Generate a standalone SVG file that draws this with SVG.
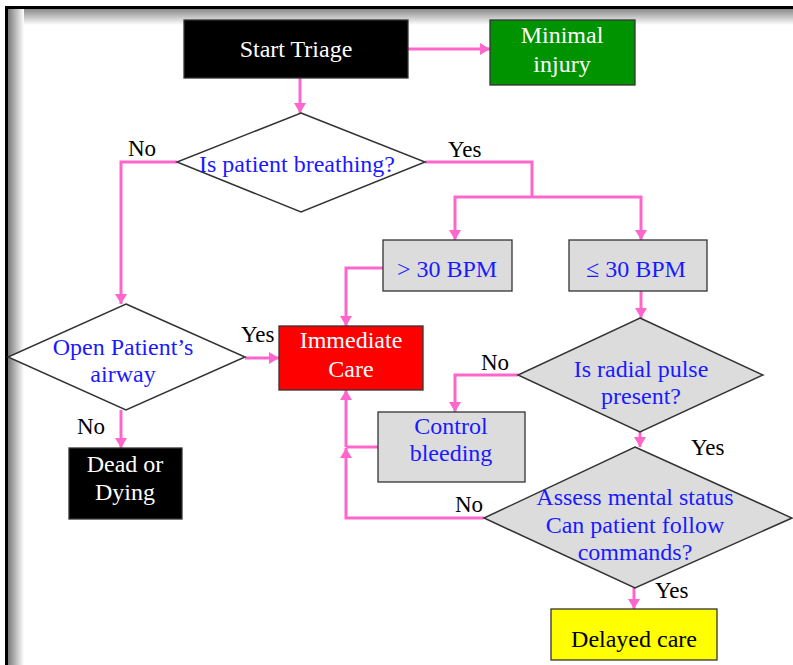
<svg xmlns="http://www.w3.org/2000/svg" width="793" height="665" viewBox="0 0 793 665" font-family="'Liberation Serif', 'Times New Roman', 'DejaVu Serif', serif">
  <defs>
    <marker id="arrow" markerUnits="userSpaceOnUse" markerWidth="11" markerHeight="12" refX="10" refY="6" orient="auto">
      <path d="M0,0 L10,6 L0,12 z" fill="#ff66cc"/>
    </marker>
    <linearGradient id="shadeTop" x1="0" y1="0" x2="0" y2="1">
      <stop offset="0" stop-color="#8a8a8a"/>
      <stop offset="1" stop-color="#ffffff"/>
    </linearGradient>
    <linearGradient id="shadeLeft" x1="0" y1="0" x2="1" y2="0">
      <stop offset="0" stop-color="#7a7a7a"/>
      <stop offset="1" stop-color="#ffffff"/>
    </linearGradient>
    <style>
      text { font-family: 'Liberation Serif', 'Times New Roman', 'DejaVu Serif', serif; font-size: 24px; text-anchor: middle; }
      .lbl { font-size: 23px; fill: #000; text-anchor: start; }
      .white { fill: #ffffff; }
      .blue { fill: #1a1aff; }
      .black { fill: #000000; }
      .box { stroke: #333; stroke-width: 1.3; }
      .dia { stroke: #333; stroke-width: 1.5; }
      .wire { fill: none; stroke: #ff66cc; stroke-width: 3; }
      .arr { marker-end: url(#arrow); }
    </style>
  </defs>

  <rect width="793" height="665" fill="#ffffff"/>

  <!-- page frame with soft inner shadow -->
  <rect x="8" y="9" width="785" height="16" fill="url(#shadeTop)"/>
  <rect x="8" y="9" width="16" height="656" fill="url(#shadeLeft)"/>
  <rect x="5" y="6" width="788" height="3" fill="#000"/>
  <rect x="5" y="6" width="3" height="659" fill="#000"/>

  <!-- connectors -->
  <g id="connectors">
    <path class="wire arr" d="M408,49 H490"/>
    <path class="wire arr" d="M300,78 V113"/>
    <path class="wire arr" d="M177,162 H121 V304"/>
    <path class="wire" d="M425,162 H532 V197"/>
    <path class="wire arr" d="M532,197 H455 V240"/>
    <path class="wire arr" d="M532,197 H641 V240"/>
    <path class="wire arr" d="M383,268 H346 V326"/>
    <path class="wire arr" d="M641,291 V318"/>
    <path class="wire arr" d="M518,375 H455 V412"/>
    <path class="wire arr" d="M245,358 H279"/>
    <path class="wire arr" d="M121,410 V448"/>
    <path class="wire arr" d="M640,432 V447"/>
    <path class="wire arr" d="M484,518 H346 V448"/>
    <path class="wire" d="M378,447 H346"/>
    <path class="wire arr" d="M346,447 V390"/>
    <path class="wire arr" d="M634,588 V609"/>
  </g>

  <!-- branch labels -->
  <g id="labels">
    <text class="lbl" x="128" y="156">No</text>
    <text class="lbl" x="448" y="157">Yes</text>
    <text class="lbl" x="241" y="342">Yes</text>
    <text class="lbl" x="77" y="434">No</text>
    <text class="lbl" x="481" y="370">No</text>
    <text class="lbl" x="691" y="455">Yes</text>
    <text class="lbl" x="455" y="512">No</text>
    <text class="lbl" x="655" y="598">Yes</text>
  </g>

  <g id="start">
    <rect class="box" x="184" y="20" width="224" height="58" fill="#000"/>
    <text class="white" x="296" y="57">Start Triage</text>
  </g>

  <g id="minimal">
    <rect class="box" x="490" y="20" width="145" height="65" fill="#009300"/>
    <text class="white" x="562" y="43">Minimal</text>
    <text class="white" x="562" y="72">injury</text>
  </g>

  <g id="breathing">
    <polygon class="dia" points="301,113 425,162 301,212 177,162" fill="#fff"/>
    <text class="blue" x="297" y="172">Is patient breathing?</text>
  </g>

  <g id="over30">
    <rect class="box" x="383" y="240" width="129" height="51" fill="#dcdcdc"/>
    <text class="blue" x="447" y="277">&gt; 30 BPM</text>
  </g>

  <g id="under30">
    <rect class="box" x="569" y="240" width="138" height="51" fill="#dcdcdc"/>
    <text class="blue" x="636" y="277">≤ 30 BPM</text>
  </g>

  <g id="airway">
    <polygon class="dia" points="126,304 245,357 126,410 8,357" fill="#fff"/>
    <text class="blue" x="123" y="355">Open Patient’s</text>
    <text class="blue" x="123" y="382">airway</text>
  </g>

  <g id="immediate">
    <rect class="box" x="279" y="326" width="144" height="64" fill="#ff0000"/>
    <text class="white" x="351" y="348">Immediate</text>
    <text class="white" x="351" y="377">Care</text>
  </g>

  <g id="radial">
    <polygon class="dia" points="640,318 763,375 640,432 518,375" fill="#dcdcdc"/>
    <text class="blue" x="641" y="377">Is radial pulse</text>
    <text class="blue" x="641" y="404">present?</text>
  </g>

  <g id="bleeding">
    <rect class="box" x="378" y="412" width="147" height="70" fill="#dcdcdc"/>
    <text class="blue" x="451" y="434">Control</text>
    <text class="blue" x="451" y="461">bleeding</text>
  </g>

  <g id="dead">
    <rect class="box" x="69" y="448" width="113" height="71" fill="#000"/>
    <text class="white" x="125" y="472">Dead or</text>
    <text class="white" x="125" y="500">Dying</text>
  </g>

  <g id="mental">
    <polygon class="dia" points="635,447 792,518 635,588 484,518" fill="#dcdcdc"/>
    <text class="blue" x="635" y="505">Assess mental status</text>
    <text class="blue" x="635" y="533">Can patient follow</text>
    <text class="blue" x="635" y="560">commands?</text>
  </g>

  <g id="delayed">
    <rect class="box" x="551" y="609" width="166" height="51" fill="#ffff00"/>
    <text class="black" x="634" y="647">Delayed care</text>
  </g>
</svg>
